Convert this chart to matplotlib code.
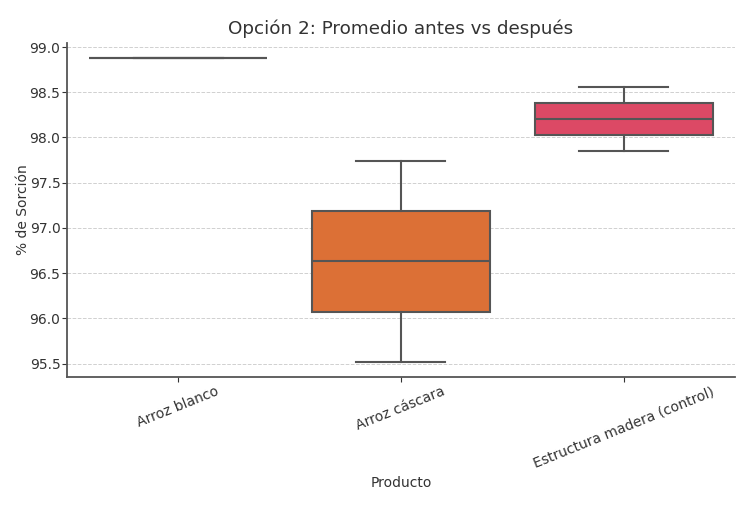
import matplotlib
matplotlib.use("Agg")
import matplotlib.pyplot as plt

productos = ["Arroz blanco", "Arroz cáscara", "Estructura madera (control)"]
# promedio antes / promedio después
antes = [98.88, 95.52, 97.85]
despues = [98.88, 97.74, 98.56]
colores = ["#6a3d9a", "#dc7036", "#dc4965"]

plt.rcParams['font.family'] = ['DejaVu Sans']

fig = plt.figure(figsize=(7.5, 5.08), dpi=100)
ax = fig.add_axes([0.089, 0.258, 0.891, 0.658])

data = [[a, d] for a, d in zip(antes, despues)]
bp = ax.boxplot(data, positions=range(len(productos)), widths=0.8, patch_artist=True,
                whis=10, showfliers=False,
                boxprops=dict(edgecolor="#555555", linewidth=1.5),
                whiskerprops=dict(color="#555555", linewidth=1.5),
                capprops=dict(color="#555555", linewidth=1.5),
                medianprops=dict(color="#555555", linewidth=1.5))
for caps in bp['caps']:
    x = caps.get_xdata()
    c = (x[0] + x[1]) / 2
    caps.set_xdata([c - 0.2, c + 0.2])
for patch, col in zip(bp['boxes'], colores):
    patch.set_facecolor(col)

ax.set_xlim(-0.5, 2.5)
ax.margins(y=0.05)
ax.set_xticks(range(len(productos)))
ax.set_xticklabels(productos, rotation=22, ha='center', fontsize=9.8)
ax.set_yticks([95.5, 96.0, 96.5, 97.0, 97.5, 98.0, 98.5, 99.0])
ax.tick_params(labelsize=10, colors="#333333")
ax.tick_params(axis='x', pad=2)
ax.tick_params(axis='y', pad=1)
for lab in ax.get_xticklabels() + ax.get_yticklabels():
    lab.set_color("#333333")

ax.grid(axis='y', linestyle='--', color='#d0d0d0', linewidth=0.7)
ax.set_axisbelow(True)
ax.spines['top'].set_visible(False)
ax.spines['right'].set_visible(False)
ax.spines['left'].set_color('#555555')
ax.spines['bottom'].set_color('#555555')
ax.spines['left'].set_linewidth(1.3)
ax.spines['bottom'].set_linewidth(1.3)

ax.set_title("Opción 2: Promedio antes vs después", fontsize=13.2, color="#333333")
ax.set_xlabel("Producto", fontsize=10, color="#333333", labelpad=4)
ax.set_ylabel("% de Sorción", fontsize=10, color="#333333", labelpad=0)

fig.savefig("out.png", dpi=100)
